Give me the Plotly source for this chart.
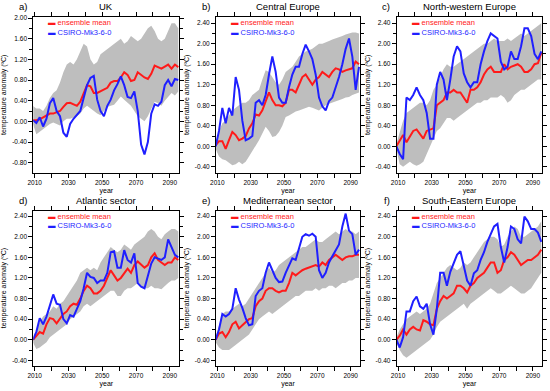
import plotly.graph_objects as go

YEARS = list(range(2009, 2096, 2))

TITLES = ["UK", "Central Europe", "North-western Europe",
          "Atlantic sector", "Mediterranean sector", "South-Eastern Europe"]
LABELS = ["a)", "b)", "c)", "d)", "e)", "f)"]

# ---------------- a) UK ----------------
ENS_A = [0.02, 0.02, 0.04, 0.08, 0.12, 0.15, 0.15, 0.17, 0.2, 0.28, 0.35, 0.36, 0.33, 0.3, 0.38,
         0.55, 0.7, 0.68, 0.55, 0.55, 0.58, 0.62, 0.65, 0.75, 0.78, 0.78, 0.85, 0.95, 0.9, 0.78,
         0.8, 0.95, 0.9, 0.85, 0.82, 0.92, 1.08, 1.05, 1.02, 1.06, 1.1, 1.02, 1.1, 1.05]
CSIRO_A = [0.02, -0.03, 0.08, -0.1, 0.05, 0.35, 0.45, 0.2, 0.1, -0.22, -0.3, -0.05, 0.05, 0.12, 0.2,
           0.45, 0.7, 0.84, 0.88, 0.42, 0.2, 0.1, 0.3, 0.42, 0.6, 0.72, 0.87, 0.7, 0.47, 0.45,
           0.58, 0.2, -0.45, -0.64, -0.4, 0.15, 0.33, 0.3, 0.38, 0.7, 0.8, 0.68, 0.82, 0.8]
HI_A = [0.3, 0.25, 0.25, 0.2, 0.3, 0.45, 0.55, 0.6, 0.75, 0.95, 1.1, 1.15, 1.1, 1.2, 1.35,
        1.5, 1.45, 1.2, 1.1, 1.15, 1.3, 1.35, 1.4, 1.45, 1.5, 1.55, 1.6, 1.5, 1.55, 1.65,
        1.6, 1.55, 1.6, 1.7, 1.8, 1.85, 1.75, 1.6, 1.55, 1.6, 1.75, 1.9, 1.9, 1.8]
LO_A = [-0.05, -0.25, -0.2, -0.15, -0.1, -0.05, -0.02, -0.05, -0.08, 0.0, 0.05, 0.05, 0.08, 0.1, 0.15,
        0.25, 0.3, 0.25, 0.2, 0.15, 0.12, 0.2, 0.28, 0.3, 0.32, 0.4, 0.48, 0.42, 0.35, 0.3,
        0.2, 0.1, 0.05, 0.0, 0.1, 0.25, 0.38, 0.35, 0.3, 0.4, 0.48, 0.55, 0.5, 0.58]

# ---------------- b) Central Europe ----------------
ENS_B = [0.02, 0.1, 0.1, -0.05, 0.12, 0.28, 0.22, 0.12, 0.15, 0.2, 0.35, 0.45, 0.62, 0.6, 0.7,
         0.88, 1.05, 0.9, 0.8, 0.8, 0.78, 0.85, 1.1, 1.1, 1.05, 1.2, 1.35, 1.4, 1.3, 1.2,
         1.3, 1.35, 1.45, 1.4, 1.35, 1.45, 1.52, 1.5, 1.45, 1.48, 1.5, 1.52, 1.65, 1.6]
CSIRO_B = [0.0, 0.3, 0.75, 0.45, 0.75, 0.6, 1.35, 1.1, 0.5, 0.12, 0.15, 0.2, 0.85, 0.9, 0.8,
           1.0, 1.4, 1.75, 1.45, 0.95, 0.85, 0.85, 1.15, 1.4, 1.55, 1.55, 1.8, 1.98, 1.85, 1.7,
           1.4, 0.95, 0.78, 0.7, 0.88, 0.95, 1.15, 1.35, 1.6, 1.9, 2.1, 1.75, 1.1, 1.55]
HI_B = [0.05, 0.3, 0.45, 0.5, 0.6, 0.7, 0.75, 0.8, 0.85, 0.85, 0.9, 1.0, 1.05, 1.1, 1.3,
        1.48, 1.45, 1.35, 1.25, 1.2, 1.3, 1.45, 1.5, 1.55, 1.65, 1.75, 1.8, 1.85, 1.87, 1.9,
        1.95, 2.0, 2.0, 2.02, 2.05, 2.08, 2.1, 2.12, 2.15, 2.18, 2.2, 2.22, 2.22, 2.2]
LO_B = [-0.05, -0.2, -0.25, -0.27, -0.32, -0.37, -0.35, -0.3, -0.35, -0.3, -0.2, -0.1, 0.0, 0.12, 0.25,
        0.38, 0.3, 0.18, 0.2, 0.28, 0.4, 0.57, 0.6, 0.64, 0.68, 0.7, 0.72, 0.75, 0.77, 0.75,
        0.72, 0.7, 0.75, 0.8, 0.83, 0.85, 0.87, 0.9, 0.92, 0.95, 0.96, 1.0, 1.02, 1.05]

# ---------------- c) North-western Europe ----------------
ENS_C = [0.0, 0.1, 0.22, 0.08, 0.2, 0.3, 0.33, 0.25, 0.15, 0.3, 0.33, 0.35, 0.8, 0.85, 0.9,
         1.05, 1.05, 1.1, 1.05, 1.05, 0.95, 0.85, 1.1, 1.1, 1.15, 1.25, 1.4, 1.5, 1.55, 1.45,
         1.45, 1.45, 1.6, 1.5, 1.55, 1.58, 1.6, 1.55, 1.45, 1.45, 1.5, 1.6, 1.62, 1.82]
CSIRO_C = [0.0, -0.15, -0.25, 0.95, 0.9, 1.0, 1.15, 1.0, 0.9, 0.65, 0.15, 0.15, 1.2, 1.45, 1.3,
           0.9, 1.3, 1.75, 1.95, 1.85, 1.42, 1.25, 1.15, 1.25, 1.25, 1.6, 1.85, 2.05, 2.2, 2.15,
           2.1, 1.65, 1.5, 1.55, 1.85, 1.7, 1.7, 1.95, 2.3, 2.3, 2.15, 1.8, 1.7, 1.85]
HI_C = [0.05, 0.3, 0.5, 0.65, 0.7, 0.75, 0.8, 0.85, 0.85, 0.8, 0.9, 1.1, 1.2, 1.35, 1.5,
        1.6, 1.55, 1.55, 1.6, 1.65, 1.7, 1.75, 1.8, 1.85, 1.9, 1.95, 2.0, 2.0, 2.05, 2.1,
        2.05, 2.05, 2.05, 2.1, 2.05, 2.1, 2.15, 2.2, 2.15, 2.2, 2.25, 2.3, 2.35, 2.4]
LO_C = [-0.05, -0.35, -0.4, -0.35, -0.3, -0.35, -0.38, -0.35, -0.3, -0.15, 0.0, 0.15, 0.3, 0.35, 0.45,
        0.55, 0.55, 0.5, 0.55, 0.6, 0.65, 0.7, 0.75, 0.8, 0.85, 0.85, 0.9, 0.9, 0.95, 0.95,
        0.95, 1.0, 0.95, 0.85, 0.9, 1.0, 1.05, 1.1, 1.1, 1.15, 1.2, 1.25, 1.3, 1.3]

# ---------------- d) Atlantic sector ----------------
ENS_D = [0.0, 0.08, 0.15, 0.12, 0.3, 0.42, 0.4, 0.32, 0.4, 0.5, 0.55, 0.65, 0.7, 0.68, 0.8,
         0.95, 1.05, 1.0, 0.9, 0.9, 0.95, 1.05, 1.2, 1.35, 1.25, 1.15, 1.2, 1.3, 1.38, 1.3,
         1.45, 1.52, 1.45, 1.4, 1.45, 1.6, 1.68, 1.55, 1.5, 1.45, 1.5, 1.5, 1.6, 1.55]
CSIRO_D = [0.0, 0.15, 0.42, 0.3, 0.45, 0.65, 0.88, 0.7, 0.68, 0.4, 0.32, 0.48, 0.45, 0.6, 0.75,
           1.0, 1.3, 1.22, 1.2, 1.1, 1.15, 1.15, 1.3, 1.7, 1.72, 1.4, 1.4, 1.74, 1.55, 1.5,
           1.68, 1.1, 1.03, 1.0, 1.22, 1.48, 1.6, 1.57, 1.55, 1.6, 1.95, 1.8, 1.65, 1.6]
HI_D = [0.05, 0.2, 0.35, 0.45, 0.5, 0.55, 0.65, 0.6, 0.7, 0.75, 0.85, 0.95, 1.05, 1.15, 1.3,
        1.35, 1.4, 1.35, 1.4, 1.35, 1.5, 1.6, 1.7, 1.8, 1.75, 1.7, 1.75, 1.85, 1.8, 1.75,
        1.85, 1.9, 1.95, 2.0, 2.1, 2.15, 2.1, 2.0, 1.95, 2.05, 2.1, 2.15, 2.15, 2.1]
LO_D = [-0.05, -0.18, -0.15, -0.1, -0.05, 0.05, 0.1, 0.15, 0.2, 0.25, 0.3, 0.4, 0.45, 0.5, 0.55,
        0.65, 0.7, 0.65, 0.7, 0.75, 0.8, 0.85, 0.9, 0.95, 0.95, 0.85, 0.85, 0.95, 1.0, 1.0,
        1.05, 1.1, 1.05, 1.0, 1.0, 1.05, 1.0, 1.0, 0.98, 1.05, 1.1, 1.15, 1.15, 1.2]

# ---------------- e) Mediterranean sector ----------------
ENS_E = [0.0, 0.12, 0.15, 0.05, 0.15, 0.3, 0.35, 0.22, 0.28, 0.35, 0.4, 0.42, 0.65, 0.75, 0.8,
         0.95, 1.0, 1.0, 0.95, 0.92, 0.95, 0.95, 1.1, 1.3, 1.25, 1.3, 1.35, 1.38, 1.4, 1.42,
         1.45, 1.42, 1.5, 1.45, 1.55, 1.6, 1.65, 1.6, 1.55, 1.6, 1.62, 1.62, 1.65, 1.65]
CSIRO_E = [0.0, 0.2, 0.5, 0.45, 0.5, 0.6, 1.0, 0.78, 0.62, 0.42, 0.28, 0.3, 0.85, 0.95, 1.0,
           1.3, 1.5, 1.35, 1.2, 1.12, 1.13, 1.3, 1.45, 1.58, 1.55, 1.77, 2.0, 2.05, 2.02, 2.06,
           2.0, 1.35, 1.2, 1.3, 1.5, 1.62, 1.75, 1.85, 2.2, 2.45, 2.12, 2.05, 1.65, 1.75]
HI_E = [0.05, 0.3, 0.5, 0.55, 0.55, 0.6, 0.65, 0.7, 0.65, 0.7, 0.8, 0.9, 1.0, 1.1, 1.2,
        1.3, 1.4, 1.3, 1.35, 1.45, 1.5, 1.55, 1.6, 1.65, 1.7, 1.75, 1.8, 1.8, 1.85, 1.9,
        1.95, 1.9, 1.9, 1.95, 2.0, 2.05, 2.1, 2.05, 2.1, 2.15, 2.1, 2.1, 2.05, 2.1]
LO_E = [-0.05, -0.15, -0.2, -0.2, -0.2, -0.15, -0.1, -0.05, 0.0, 0.05, 0.1, 0.2, 0.3, 0.4, 0.45,
        0.5, 0.55, 0.5, 0.55, 0.6, 0.65, 0.7, 0.75, 0.8, 0.85, 0.85, 0.9, 0.95, 0.95, 0.95,
        1.0, 0.95, 1.0, 1.0, 1.05, 1.05, 1.0, 1.05, 1.1, 1.1, 1.15, 1.15, 1.2, 1.2]

# ---------------- f) South-Eastern Europe ----------------
ENS_F = [0.0, 0.08, 0.2, 0.1, 0.2, 0.25, 0.2, 0.18, 0.38, 0.35, 0.3, 0.28, 0.6, 0.75, 0.85,
         0.8, 0.85, 0.9, 1.05, 1.05, 1.0, 0.92, 1.05, 1.1, 1.2, 1.25, 1.3, 1.4, 1.5, 1.5,
         1.3, 1.35, 1.55, 1.6, 1.7, 1.65, 1.55, 1.45, 1.5, 1.55, 1.55, 1.6, 1.65, 1.75]
CSIRO_F = [0.0, -0.15, 0.05, 0.55, 0.55, 0.75, 0.84, 0.65, 0.6, 0.7, 0.3, 0.1, 0.6, 1.3, 1.3,
           1.05, 1.32, 1.5, 1.65, 1.72, 1.45, 1.15, 1.05, 1.29, 1.35, 1.55, 1.7, 1.9, 2.05, 2.2,
           2.25, 1.8, 1.5, 1.8, 2.2, 2.15, 1.95, 1.87, 2.39, 2.3, 2.15, 2.15, 2.08, 1.9]
HI_F = [0.05, 0.2, 0.3, 0.4, 0.45, 0.5, 0.55, 0.5, 0.55, 0.6, 0.7, 0.9, 1.1, 1.2, 1.3,
        1.4, 1.45, 1.4, 1.35, 1.4, 1.5, 1.45, 1.5, 1.6, 1.7, 1.8, 1.9, 1.95, 2.0, 2.0,
        1.95, 1.8, 1.85, 2.0, 2.1, 2.2, 2.15, 2.0, 2.0, 2.05, 2.1, 2.15, 2.2, 2.3]
LO_F = [-0.05, -0.2, -0.3, -0.35, -0.3, -0.25, -0.2, -0.15, -0.1, -0.05, 0.0, 0.1, 0.25, 0.35, 0.4,
        0.45, 0.5, 0.55, 0.6, 0.65, 0.7, 0.6, 0.7, 0.75, 0.8, 0.85, 0.9, 0.95, 1.0, 0.95,
        0.9, 0.9, 0.95, 1.0, 1.05, 1.0, 0.95, 0.9, 0.9, 0.95, 1.0, 1.1, 1.2, 1.3]

ENS = [ENS_A, ENS_B, ENS_C, ENS_D, ENS_E, ENS_F]
CSIRO = [CSIRO_A, CSIRO_B, CSIRO_C, CSIRO_D, CSIRO_E, CSIRO_F]
HI = [HI_A, HI_B, HI_C, HI_D, HI_E, HI_F]
LO = [LO_A, LO_B, LO_C, LO_D, LO_E, LO_F]

Y_RANGES = [[-0.99, 2.02], [-0.51, 2.52], [-0.51, 2.52],
            [-0.5, 2.51], [-0.5, 2.51], [-0.5, 2.51]]
X_TICKS = list(range(2010, 2100, 10))
X_TICKTEXT = [str(v) if (v - 2010) % 20 == 0 else "" for v in X_TICKS]

ENS_NAME = "ensemble mean"
CSIRO_NAME = "CSIRO-Mk3-6-0"
Y_TITLE = "temperature anomaly (ºC)"
X_TITLE = "year"

RED = "#FF1A1A"
BLUE = "#1F1FFF"
GREY = "#BEBEBE"
FONT = "Liberation Sans, Arial, Helvetica, sans-serif"

W, H = 550, 391
COLS = [(33.3, 179.3), (216.0, 360.0), (396.7, 542.3)]
ROWS = [(17.0, 172.5), (210.5, 365.5)]

fig = go.Figure()
annotations = []
layout = {}

for i in range(6):
    r, c = divmod(i, 3)
    ax = "" if i == 0 else str(i + 1)
    xref, yref = "x" + ax, "y" + ax
    n = len(YEARS)
    assert len(ENS[i]) == n and len(CSIRO[i]) == n and len(HI[i]) == n and len(LO[i]) == n, i

    fig.add_trace(go.Scatter(x=YEARS, y=LO[i], mode="lines", line=dict(width=0, color=GREY),
                             xaxis=xref, yaxis=yref, showlegend=False, hoverinfo="skip"))
    fig.add_trace(go.Scatter(x=YEARS, y=HI[i], mode="lines", line=dict(width=0, color=GREY),
                             fill="tonexty", fillcolor=GREY,
                             xaxis=xref, yaxis=yref, showlegend=False, hoverinfo="skip"))
    fig.add_trace(go.Scatter(x=YEARS, y=ENS[i], mode="lines", name=ENS_NAME,
                             line=dict(width=2, color=RED),
                             xaxis=xref, yaxis=yref, showlegend=False))
    fig.add_trace(go.Scatter(x=YEARS, y=CSIRO[i], mode="lines", name=CSIRO_NAME,
                             line=dict(width=2, color=BLUE),
                             xaxis=xref, yaxis=yref, showlegend=False))

    x0, x1 = COLS[c]
    y0, y1 = ROWS[r]
    lo, hi = Y_RANGES[i]
    yt = [round(v * 0.4, 2) for v in range(-3, 7) if lo <= v * 0.4 <= hi]
    ytext = ["%.2f" % v for v in yt]
    ymin = [round(v * 0.4 + 0.2, 2) for v in range(-3, 7) if lo <= v * 0.4 + 0.2 <= hi]

    layout["xaxis" + ax] = dict(
        domain=[x0 / W, x1 / W], anchor=yref, range=[2009.2, 2095.6], automargin=False,
        tickvals=X_TICKS, ticktext=X_TICKTEXT, ticks="outside", ticklen=4,
        tickwidth=1, tickcolor="black", showline=True, linecolor="black", linewidth=1,
        mirror="ticks", showgrid=False, zeroline=False,
        tickfont=dict(size=6.5, family=FONT, color="black"),
        title=dict(text=X_TITLE, font=dict(size=7, family=FONT, color="black"), standoff=2),
    )
    layout["yaxis" + ax] = dict(
        domain=[1 - y1 / H, 1 - y0 / H], anchor=xref, range=[lo, hi], automargin=False,
        tickvals=yt, ticktext=ytext, ticks="outside", ticklen=4,
        tickwidth=1, tickcolor="black", showline=True, linecolor="black", linewidth=1,
        mirror="ticks", showgrid=False, zeroline=False,
        minor=dict(tickvals=ymin, ticks="outside", ticklen=3, tickcolor="black",
                   tickwidth=1, showgrid=False),
        tickfont=dict(size=6.5, family=FONT, color="black"),
        title=dict(text=Y_TITLE, font=dict(size=7, family=FONT, color="black"), standoff=4),
    )

    dx = xref + " domain"
    dy = yref + " domain"
    annotations.append(dict(text=TITLES[i], x=0.5, y=1, xref=dx, yref=dy,
                            xanchor="center", yanchor="bottom", yshift=3, showarrow=False,
                            font=dict(size=9.5, family=FONT, color="black")))
    annotations.append(dict(text=LABELS[i], x=-0.03, y=1, xref=dx, yref=dy,
                            xanchor="right", yanchor="bottom", yshift=3, showarrow=False,
                            font=dict(size=9.5, family=FONT, color="black")))
    annotations.append(dict(text="▬ " + ENS_NAME, x=0.09, y=0.962, xref=dx, yref=dy,
                            xanchor="left", yanchor="middle", showarrow=False,
                            font=dict(size=7.5, family=FONT, color=RED)))
    annotations.append(dict(text="▬ " + CSIRO_NAME, x=0.09, y=0.903, xref=dx, yref=dy,
                            xanchor="left", yanchor="middle", showarrow=False,
                            font=dict(size=7.5, family=FONT, color=BLUE)))

fig.update_layout(
    width=W, height=H, margin=dict(l=0, r=0, t=0, b=0, autoexpand=False),
    paper_bgcolor="white", plot_bgcolor="white",
    annotations=annotations, showlegend=False, hovermode=False,
    font=dict(family=FONT, color="black"),
    **layout,
)

fig.write_html("out.html", config={"displayModeBar": False},
               post_script="document.body.style.margin='0';")
